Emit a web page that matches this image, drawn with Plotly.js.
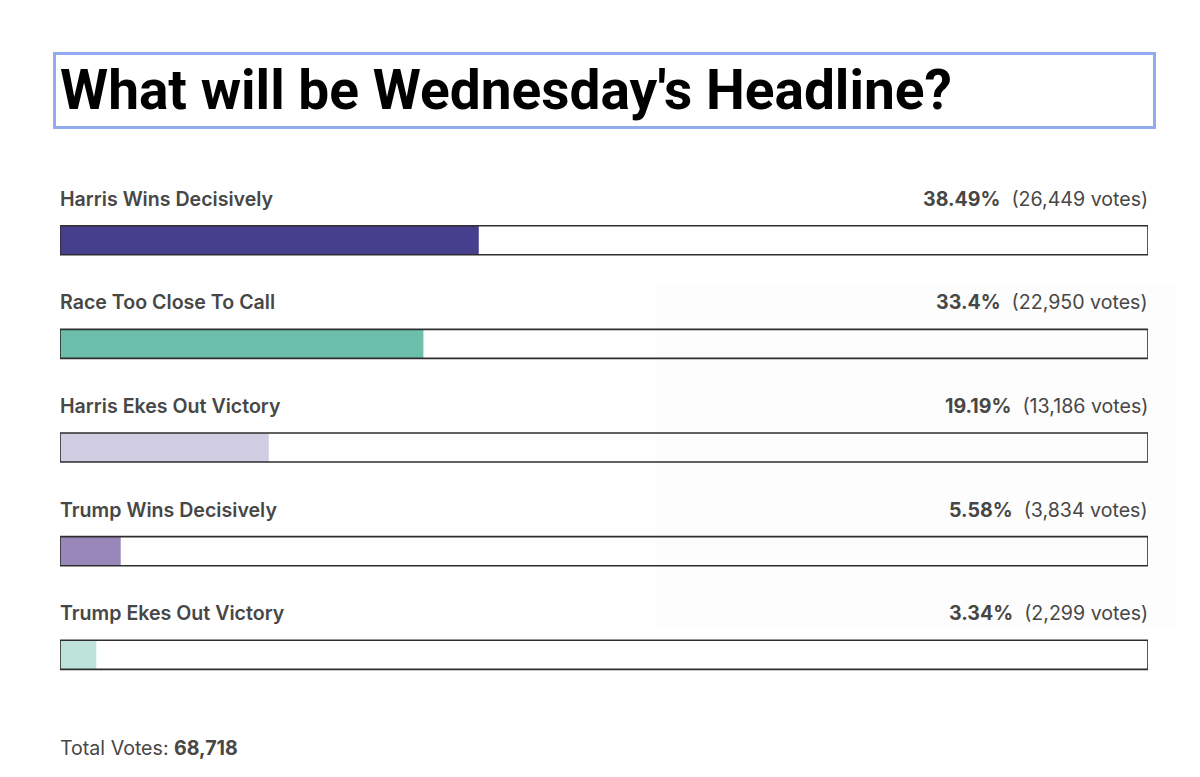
<!DOCTYPE html>
<html>
<head>
<meta charset="utf-8">
<script src="https://cdn.plot.ly/plotly-3.0.1.min.js"></script>
<style>html,body{margin:0;padding:0;background:#fff;}#chart{width:1200px;height:777px;}</style>
</head>
<body>
<div id="chart"></div>
<script>
const titleText = "What will be Wednesday's Headline?";
const categories = ["Harris Wins Decisively", "Race Too Close To Call", "Harris Ekes Out Victory", "Trump Wins Decisively", "Trump Ekes Out Victory"];
const percents = [38.49, 33.4, 19.19, 5.58, 3.34];
const percentLabels = ["38.49%", "33.4%", "19.19%", "5.58%", "3.34%"];
const votes = ["26,449", "22,950", "13,186", "3,834", "2,299"];
const colors = ["#463f8e", "#6bbfab", "#d1cde3", "#9a87b9", "#bee3da"];
const totalVotes = "68,718";

const idx = categories.map((_, i) => i);
const full = categories.map(() => 100);
const textColor = "#474747";
const fam = "Inter, 'Liberation Sans', sans-serif";
const labelFont = {family: fam, size: 19.6, color: textColor, weight: 600};
const valueFont = {family: fam, size: 19.6, color: textColor, weight: 400};

const traces = [
  {type: "bar", orientation: "h", y: idx, x: percents, width: 0.28,
   marker: {color: colors, line: {width: 0}}, hoverinfo: "skip"},
  {type: "bar", orientation: "h", y: idx, x: full, width: 0.28,
   marker: {color: "rgba(0,0,0,0)", line: {color: "#2e2e2e", width: 1.6}}, hoverinfo: "skip"}
];

const annotations = [];
categories.forEach((c, i) => {
  annotations.push({xref: "paper", yref: "y", x: 0, y: i, yshift: 41.5, xshift: -1, borderpad: 0, text: c,
    showarrow: false, xanchor: "left", yanchor: "middle", font: labelFont});
  annotations.push({xref: "paper", yref: "y", x: 1, y: i, yshift: 41.5, xshift: 1, borderpad: 0,
    text: "<b>" + percentLabels[i] + "</b>  (" + votes[i] + " votes)",
    showarrow: false, xanchor: "right", yanchor: "middle", font: valueFont});
});
annotations.push({xref: "paper", yref: "y", x: 0, y: 4.6, yshift: -30.5, xshift: -1, borderpad: 0,
  text: "Total Votes: <b>" + totalVotes + "</b>", showarrow: false, xanchor: "left", yanchor: "middle",
  font: valueFont});

const layout = {
  width: 1200, height: 777,
  margin: {l: 60, r: 52, t: 147, b: 60, pad: 0},
  paper_bgcolor: "#ffffff", plot_bgcolor: "rgba(0,0,0,0)",
  barmode: "overlay", showlegend: false,
  title: {text: "<b>" + titleText + "</b>", xref: "container", yref: "container",
    x: 60/1200, xanchor: "left", y: 1 - 90/777, yanchor: "middle",
    font: {family: "Roboto, sans-serif", size: 55, color: "#000000", weight: 700}},
  xaxis: {range: [0, 100], showgrid: false, zeroline: false, showticklabels: false, ticks: "", fixedrange: true},
  yaxis: {range: [4.6, -0.9], showgrid: false, zeroline: false, showticklabels: false, ticks: "", fixedrange: true},
  annotations: annotations,
  shapes: [
    {type: "rect", xref: "paper", yref: "paper", layer: "below",
     x0: (656-60)/1088, x1: (1175-60)/1088, y0: (717-630)/570, y1: (717-285)/570,
     fillcolor: "#fdfdfd", line: {width: 0}},
    {type: "rect", xref: "paper", yref: "paper",
     x0: (54.5-60)/1088, x1: (1154.5-60)/1088, y0: (717-127.5)/570, y1: (717-53.5)/570,
     fillcolor: "rgba(0,0,0,0)", line: {color: "#92aaee", width: 3}}
  ]
};

Plotly.newPlot("chart", traces, layout, {displayModeBar: false, staticPlot: true});
</script>
</body>
</html>
